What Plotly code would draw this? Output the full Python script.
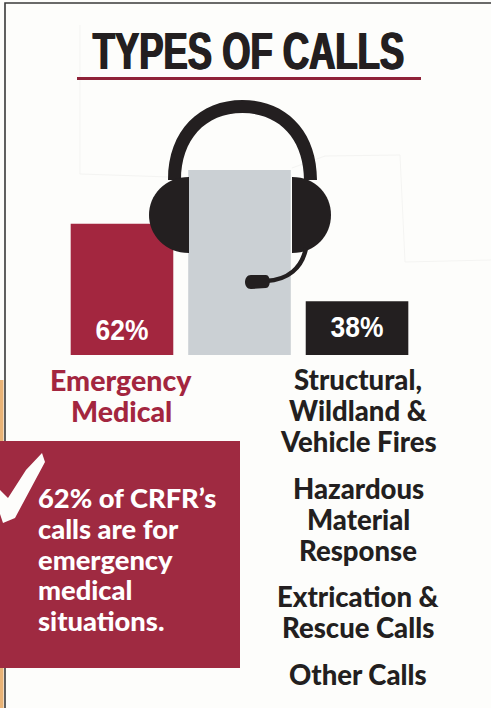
import plotly.graph_objects as go

W, H = 491, 708

# Data
categories = ["Emergency Medical", "Total", "Fires and other calls"]
bar_heights = [71, 100, 29]          # drawn heights, as a share of the tallest bar
bar_labels = ["62%", "", "38%"]
bar_colors = ["#a3263f", "#cbd0d4", "#231f20"]
label_y = [12, 12, 14]

title = "TYPES OF CALLS"
left_label = ["Emergency", "Medical"]
right_labels = ["Structural,", "Wildland &", "Vehicle Fires", "Hazardous", "Material",
                "Response", "Extrication &", "Rescue Calls", "Other Calls"]
right_baselines = [388, 419, 450, 497, 528, 559, 605, 636, 683]
box_lines = ["62% of CRFR’s", "calls are for", "emergency", "medical", "situations."]
box_baselines = [506, 537, 568, 598, 629]

INK = "#231f20"
CRIMSON = "#9f2a41"


def px(x):
    return x / W


def py(y):
    return 1 - y / H


def path(points):
    """Build an SVG path in paper coordinates from pixel-based commands."""
    out = []
    for cmd, *vals in points:
        coords = []
        for i in range(0, len(vals), 2):
            coords.append(f"{px(vals[i]):.5f},{py(vals[i + 1]):.5f}")
        out.append(cmd + " ".join(coords))
    return " ".join(out) + " Z"


def open_path(points):
    return path(points)[:-2]


def rect(x0, y0, x1, y1, color, layer="below"):
    return dict(type="rect", xref="paper", yref="paper", x0=px(x0), x1=px(x1), y0=py(y0), y1=py(y1),
                fillcolor=color, line_width=0, layer=layer)


def filled(points, color=INK):
    return dict(type="path", xref="paper", yref="paper", path=path(points), fillcolor=color,
                line_width=0, layer="above")


def stroke(points, color, width, layer="above"):
    return dict(type="path", xref="paper", yref="paper", path=open_path(points),
                line=dict(color=color, width=width), layer=layer)


shapes = [
    # page edges
    rect(0, 380, 3.5, 441, "#e9b376"),
    rect(0, 668, 3.5, H, "#e9b376"),
    stroke([("M", 5, 708), ("L", 5, 3), ("L", 491, 3)], "#3a3a3a", 1.6, "below"),
    # faint print ghosts
    stroke([("M", 80, 25), ("L", 80, 174), ("L", 170, 177)], "#f4f4f2", 1, "below"),
    stroke([("M", 292, 168), ("L", 325, 156), ("L", 400, 155), ("L", 405, 262), ("L", 491, 260)],
           "#f4f4f2", 1, "below"),
    # title rule
    rect(77, 77, 421, 80, "#8f2238", "above"),
    # headset
    filled([("M", 168, 180), ("C", 168, 130, 200, 100, 242.5, 100), ("C", 285, 100, 317, 130, 317, 180),
            ("L", 304, 180), ("C", 304, 140, 280, 113, 242.5, 113), ("C", 205, 113, 181, 140, 181, 180)]),
    filled([("M", 189, 177), ("C", 165, 177, 149, 195, 149, 215), ("C", 149, 235, 165, 253, 189, 253)]),
    filled([("M", 292, 177), ("C", 316, 177, 331, 195, 331, 215), ("C", 331, 235, 316, 253, 292, 253)]),
    stroke([("M", 306, 248), ("C", 302, 268, 288, 280, 266, 281)], INK, 4.5),
    filled([("M", 251, 275), ("L", 266, 275), ("C", 271, 275, 271, 288, 266, 288), ("L", 251, 289),
            ("C", 243, 289, 243, 275, 251, 275)]),
    # call-out box
    rect(0, 441, 240, 668, CRIMSON),
    # tick mark
    filled([("M", 42, 453), ("L", 45, 462), ("L", 15, 518), ("L", 3, 523), ("L", 0, 514), ("L", 0, 490),
            ("L", 8, 498), ("L", 26, 470)], "#fdfdfb"),
]

fig = go.Figure()
fig.add_bar(x=categories, y=bar_heights, marker=dict(color=bar_colors, line_width=0), width=0.873,
            hoverinfo="skip")
fig.add_scatter(x=categories, y=label_y, mode="text", text=bar_labels,
                textfont=dict(family="Liberation Sans", size=30, color="#ffffff", weight=700),
                hoverinfo="skip")

annotations = []


def add_text(text, x, baseline, size, color, family="Lato", anchor="center", weight=900, shadow=None):
    annotations.append(dict(text=text, xref="paper", yref="paper", x=px(x), y=py(baseline + size * 0.28),
                            xanchor=anchor, yanchor="bottom", showarrow=False, borderpad=0, borderwidth=0,
                            font=dict(family=family, size=size, color=color, weight=weight,
                                      **({"shadow": shadow} if shadow else {}))))


add_text(title, 249, 65, 52, INK, family="Liberation Sans", weight=700,
         shadow=f"1px 0 0 {INK}, -1px 0 0 {INK}")
add_text(left_label[0], 121, 389, 28.5, "#a3263f")
add_text(left_label[1], 121, 420, 28.5, "#a3263f")
for line, base in zip(right_labels, right_baselines):
    add_text(line, 358, base, 27.5, INK)
for line, base in zip(box_lines, box_baselines):
    add_text(line, 38, base, 27.3, "#ffffff", anchor="left")

fig.update_layout(
    width=W, height=H, margin=dict(l=0, r=0, t=0, b=0), autosize=False,
    paper_bgcolor="#fdfdfb", plot_bgcolor="rgba(0,0,0,0)", showlegend=False,
    xaxis=dict(visible=False, type="category", categoryorder="array", categoryarray=categories,
               range=[-1.038, 3.14], domain=[0, 1], fixedrange=True),
    yaxis=dict(visible=False, range=[-190.8, 191.9], domain=[0, 1], fixedrange=True),
    shapes=shapes, annotations=annotations,
)

# The original uses a condensed face; none is installed, so the real text is narrowed horizontally.
squeeze_js = """
document.body.style.margin='0';document.body.style.overflow='hidden';
var squeeze={'TYPES OF CALLS':0.70,'62%':0.88,'38%':0.88};
document.querySelectorAll('svg text').forEach(function(t){
  var k=squeeze[t.textContent.trim()];
  if(k){t.style.transformBox='fill-box';t.style.transformOrigin='center';t.style.transform='scaleX('+k+')';}
});
"""
fig.write_html("out.html", config=dict(displayModeBar=False), post_script=squeeze_js)
